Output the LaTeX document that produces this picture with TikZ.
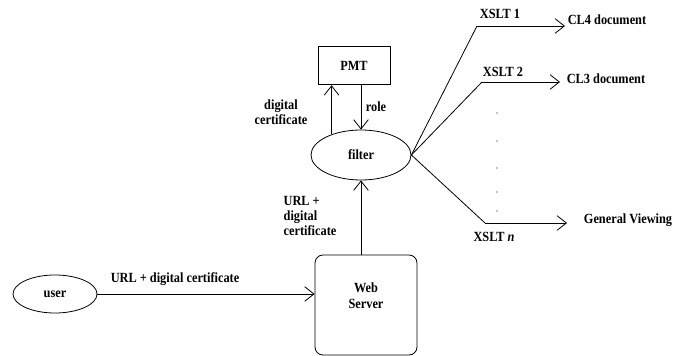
\documentclass[tikz,border=0pt]{standalone}
\usepackage{fontspec}
\setmainfont{Liberation Serif}[FakeStretch=0.88]
\usepackage{tikz}
\usetikzlibrary{shapes.geometric,arrows.meta,positioning,calc}

\tikzset{
    flow/.style={-{Straight Barb[length=7pt,width=11pt]}, line width=0.6pt},
    oval/.style={draw, ellipse, line width=0.6pt, inner sep=0pt},
    box/.style={draw, rectangle, line width=0.6pt, inner sep=0pt},
    txt/.style={font=\bfseries\fontsize{10.5}{11.5}\selectfont, inner sep=0pt}
}

\begin{document}
\begin{tikzpicture}[x=0.75pt, y=-0.75pt, every node/.style={txt}]
    \useasboundingbox (0,0) rectangle (686,356);

    % Blocks
    \node[oval, minimum width=63pt, minimum height=28.5pt] (user) at (55,294) {user};
    \node[box, rounded corners=6pt, minimum width=76.5pt, minimum height=75pt,
          label={[txt, align=center, yshift=7pt]center:Web\\Server}] (web) at (366,305) {};
    \node[oval, minimum width=75pt, minimum height=37.5pt] (filter) at (361,155) {filter};
    \node[box, minimum width=54pt, minimum height=29pt] (pmt) at (354,65.5) {PMT};

    % Request path
    \draw[flow] (user.east) -- (user.east -| web.west);
    \node (req) at (175,279) {URL + digital certificate};
    \draw[flow] (filter.south |- web.north) -- (filter.south);
    \node[align=left] (requp) at (310,216) {URL +\\digital\\certificate};

    % Filter and PMT
    \draw[flow] (filter.145) -- (filter.145 |- pmt.south);
    \draw[flow] (pmt.south -| filter.north) -- (filter.north);
    \node[align=center] (cert) at (281,112) {digital\\certificate};
    \node (role) at (376,107) {role};

    % Transformations
    \coordinate (c1) at (477,26);
    \coordinate (c2) at (482,82);
    \coordinate (cn) at (485,223);
    \coordinate (t1) at (565,26);
    \coordinate (t2) at (560,82);
    \coordinate (tn) at (567,223);
    \draw[line width=0.6pt] (filter.east) -- (c1);
    \draw[line width=0.6pt] (filter.east) -- (c2);
    \draw[line width=0.6pt] (filter.east) -- (cn);
    \draw[flow] (c1) -- (t1);
    \draw[flow] (c2) -- (t2);
    \draw[flow] (cn) -- (tn);

    \node (x1) at (500,14) {XSLT 1};
    \node (x2) at (503,72) {XSLT 2};
    \node (xn) at (494,237) {XSLT \textit{n}};
    \node (cl4) at (607,20) {CL4 document};
    \node (cl3) at (606,79) {CL3 document};
    \node (gen) at (628,220) {General Viewing};

    \foreach \y in {113,141,168,192,211}
        \fill (497,\y) circle (0.4pt);
\end{tikzpicture}
\end{document}
